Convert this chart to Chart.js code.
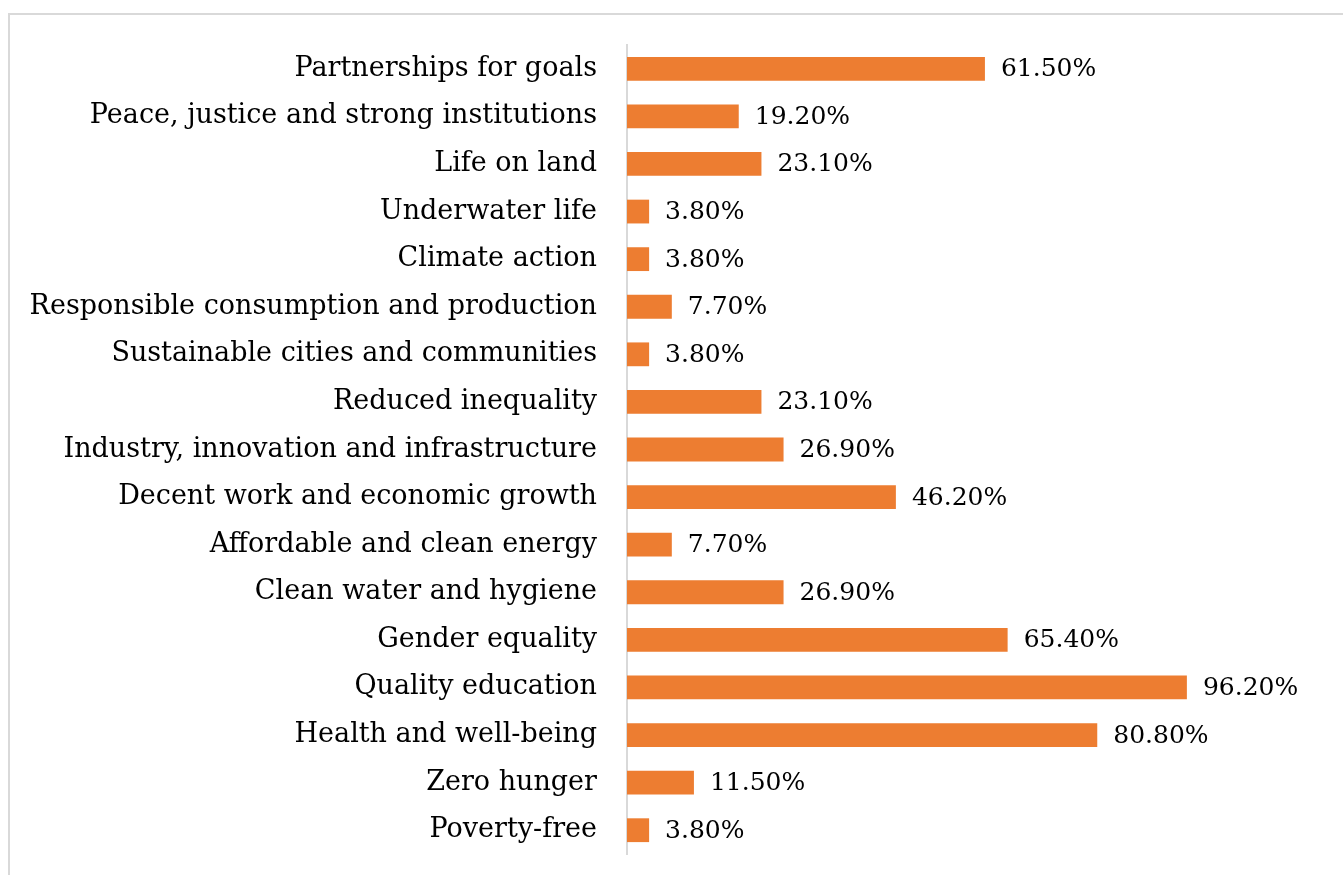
<!DOCTYPE html>
<html>
<head>
<meta charset="utf-8">
<script src="https://cdn.jsdelivr.net/npm/chart.js@4.4.1/dist/chart.umd.min.js"></script>
<style>
    html, body { margin: 0; padding: 0; background: #ffffff; }
    #wrap { position: relative; width: 1343px; height: 875px; overflow: hidden; }
    #frame { position: absolute; left: 8px; top: 13px; width: 1400px; height: 900px; border: 2px solid #d9d9d9; }
    #myChart { position: absolute; left: 0; top: 0; }
</style>
</head>
<body>
<div id="wrap">
    <div id="frame"></div>
    <canvas id="myChart" width="1343" height="875"></canvas>
</div>
<script>
// Categories, top to bottom as in the picture
const goals = [
    'Partnerships for goals',
    'Peace, justice and strong institutions',
    'Life on land',
    'Underwater life',
    'Climate action',
    'Responsible consumption and production',
    'Sustainable cities and communities',
    'Reduced inequality',
    'Industry, innovation and infrastructure',
    'Decent work and economic growth',
    'Affordable and clean energy',
    'Clean water and hygiene',
    'Gender equality',
    'Quality education',
    'Health and well-being',
    'Zero hunger',
    'Poverty-free'
];

// Share of answers per goal (%)
const shares = [61.5, 19.2, 23.1, 3.8, 3.8, 7.7, 3.8, 23.1, 26.9, 46.2, 7.7, 26.9, 65.4, 96.2, 80.8, 11.5, 3.8];

const labelFont = '"DejaVu Serif", serif';

// Draws the value next to the end of each bar
const valueLabels = {
    id: 'valueLabels',
    afterDatasetsDraw(chart) {
        const ctx = chart.ctx;
        const meta = chart.getDatasetMeta(0);
        ctx.save();
        ctx.font = '25px ' + labelFont;
        ctx.fillStyle = '#000000';
        ctx.textAlign = 'left';
        ctx.textBaseline = 'middle';
        meta.data.forEach((bar, i) => {
            ctx.fillText(shares[i].toFixed(2) + '%', bar.x + 16, bar.y + 1);
        });
        ctx.restore();
    }
};

const data = {
    labels: goals,
    datasets: [{
        data: shares,
        backgroundColor: '#ED7D31',
        borderWidth: 0,
        barPercentage: 0.5,
        categoryPercentage: 1.0
    }]
};

const config = {
    type: 'bar',
    data,
    options: {
        indexAxis: 'y',
        responsive: false,
        animation: false,
        layout: {
            padding: { top: 45, bottom: 21, right: 134, left: 0 }
        },
        scales: {
            x: {
                display: false,
                min: 0,
                max: 100
            },
            y: {
                afterFit(scale) {
                    scale.width = 627;
                    scale.paddingTop = 0;
                    scale.paddingBottom = 0;
                },
                grid: { display: false, drawTicks: false },
                border: { display: true, color: '#d9d9d9', width: 2 },
                ticks: {
                    padding: 30,
                    color: '#000000',
                    font: { size: 27, family: labelFont }
                }
            }
        },
        plugins: {
            legend: { display: false },
            tooltip: { enabled: false }
        }
    },
    plugins: [valueLabels]
};

window.myChart = new Chart(document.getElementById('myChart'), config);
</script>
</body>
</html>
